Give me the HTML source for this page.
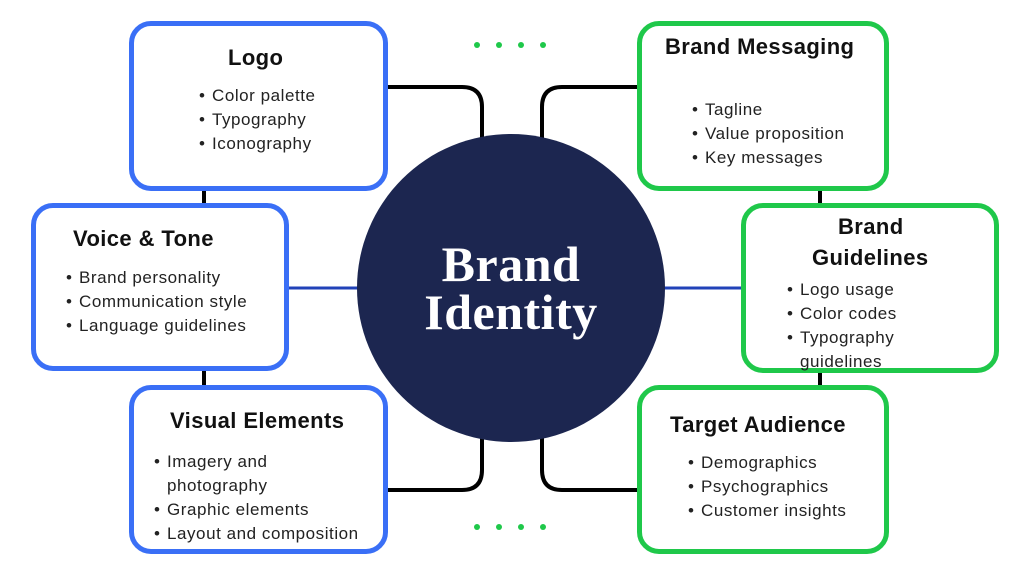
<!DOCTYPE html>
<html><head><meta charset="utf-8"><style>
*{margin:0;padding:0;box-sizing:border-box}
body{width:1024px;height:576px;background:#fff;position:relative;overflow:hidden;font-family:"Liberation Sans",sans-serif;color:#1a1a1a}
.box{position:absolute;border:5px solid #3a6ff6;border-radius:22px;background:#fff}
.g{border-color:#1fc84a}
.t{position:absolute;font-weight:bold;font-size:22px;letter-spacing:0.4px;color:#111;white-space:nowrap;line-height:24px}
.b{position:absolute;font-size:17px;letter-spacing:0.55px;line-height:24px;white-space:nowrap;color:#222}
.b span{position:absolute;left:-13px}
.c{position:absolute;left:357px;top:134px;width:308px;height:308px;border-radius:50%;background:#1c2650}
.ct{position:absolute;left:357px;width:308px;text-align:center;color:#fff;font-family:"Liberation Serif",serif;font-weight:bold;font-size:50px;line-height:48px;letter-spacing:0.5px}
.d{position:absolute;width:6px;height:6px;border-radius:50%;background:#1fc84a}
</style></head><body>
<svg width="1024" height="576" style="position:absolute;left:0;top:0">
<g fill="none" stroke="#000" stroke-width="4">
<path d="M387 87 H462 Q482 87 482 107 V145"/>
<path d="M637 87 H562 Q542 87 542 107 V145"/>
<path d="M387 490 H462 Q482 490 482 470 V430"/>
<path d="M637 490 H562 Q542 490 542 470 V430"/>
<path d="M204 188 V205 M204 368 V387 M820 188 V205 M820 370 V387"/>
</g>
<g stroke="#2142b8" stroke-width="3"><path d="M286 288 H360 M664 288 H743"/></g>
</svg>
<div class="c"></div>
<div class="ct" style="top:240px">Brand</div>
<div class="ct" style="top:288px">Identity</div>

<div class="box" style="left:129px;top:21px;width:259px;height:170px"></div>
<div class="t" style="left:228px;top:46px">Logo</div>
<div class="b" style="left:212px;top:84px"><span>•</span>Color palette</div>
<div class="b" style="left:212px;top:108px"><span>•</span>Typography</div>
<div class="b" style="left:212px;top:132px"><span>•</span>Iconography</div>

<div class="box" style="left:31px;top:203px;width:258px;height:168px"></div>
<div class="t" style="left:73px;top:227px">Voice &amp; Tone</div>
<div class="b" style="left:79px;top:266px"><span>•</span>Brand personality</div>
<div class="b" style="left:79px;top:290px"><span>•</span>Communication style</div>
<div class="b" style="left:79px;top:314px"><span>•</span>Language guidelines</div>

<div class="box" style="left:129px;top:385px;width:259px;height:169px"></div>
<div class="t" style="left:170px;top:409px">Visual Elements</div>
<div class="b" style="left:167px;top:450px"><span>•</span>Imagery and</div>
<div class="b" style="left:167px;top:474px">photography</div>
<div class="b" style="left:167px;top:498px"><span>•</span>Graphic elements</div>
<div class="b" style="left:167px;top:522px"><span>•</span>Layout and composition</div>

<div class="box g" style="left:637px;top:21px;width:252px;height:170px"></div>
<div class="t" style="left:665px;top:35px">Brand Messaging</div>
<div class="b" style="left:705px;top:98px"><span>•</span>Tagline</div>
<div class="b" style="left:705px;top:122px"><span>•</span>Value proposition</div>
<div class="b" style="left:705px;top:146px"><span>•</span>Key messages</div>

<div class="box g" style="left:741px;top:203px;width:258px;height:170px"></div>
<div class="t" style="left:838px;top:215px">Brand</div>
<div class="t" style="left:812px;top:246px">Guidelines</div>
<div class="b" style="left:800px;top:278px"><span>•</span>Logo usage</div>
<div class="b" style="left:800px;top:302px"><span>•</span>Color codes</div>
<div class="b" style="left:800px;top:326px"><span>•</span>Typography</div>
<div class="b" style="left:800px;top:350px">guidelines</div>

<div class="box g" style="left:637px;top:385px;width:252px;height:169px"></div>
<div class="t" style="left:670px;top:413px">Target Audience</div>
<div class="b" style="left:701px;top:451px"><span>•</span>Demographics</div>
<div class="b" style="left:701px;top:475px"><span>•</span>Psychographics</div>
<div class="b" style="left:701px;top:499px"><span>•</span>Customer insights</div>

<div class="d" style="left:474px;top:42px"></div><div class="d" style="left:496px;top:42px"></div><div class="d" style="left:518px;top:42px"></div><div class="d" style="left:540px;top:42px"></div>
<div class="d" style="left:474px;top:524px"></div><div class="d" style="left:496px;top:524px"></div><div class="d" style="left:518px;top:524px"></div><div class="d" style="left:540px;top:524px"></div>
</body></html>
